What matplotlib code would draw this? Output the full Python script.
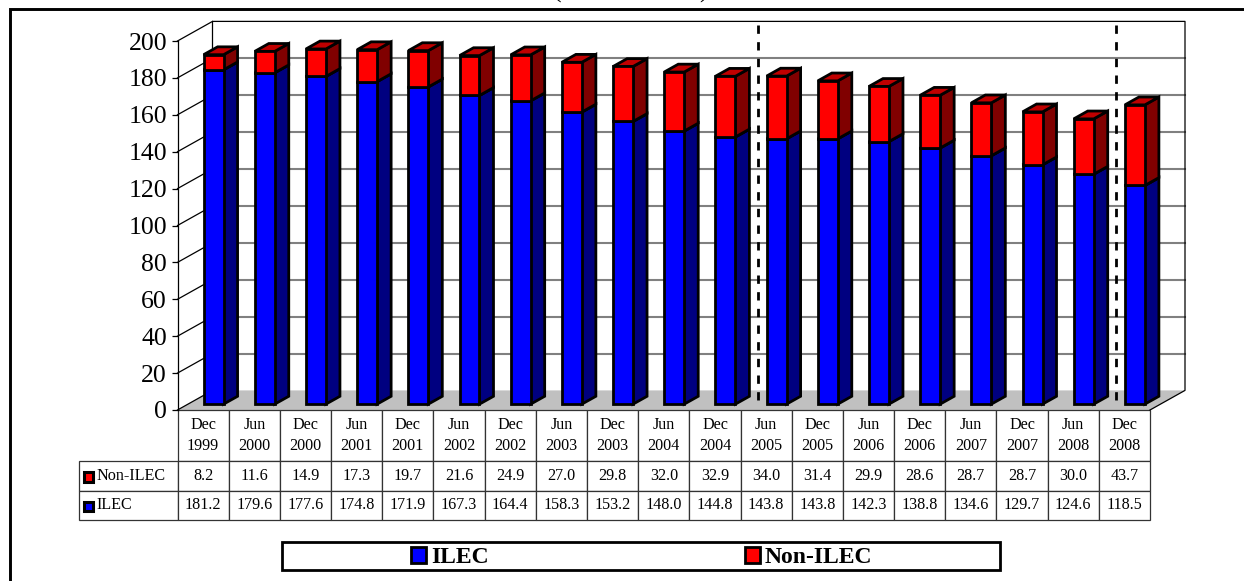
import matplotlib
matplotlib.use("Agg")
import matplotlib.pyplot as plt
from matplotlib.patches import Polygon, Rectangle, Patch
from matplotlib.lines import Line2D

plt.rcParams['font.family'] = ['Liberation Serif', 'DejaVu Serif']

months = ["Dec", "Jun", "Dec", "Jun", "Dec", "Jun", "Dec", "Jun", "Dec", "Jun", "Dec",
          "Jun", "Dec", "Jun", "Dec", "Jun", "Dec", "Jun", "Dec"]
years = [1999, 2000, 2000, 2001, 2001, 2002, 2002, 2003, 2003, 2004, 2004,
         2005, 2005, 2006, 2006, 2007, 2007, 2008, 2008]
ilec = [181.2, 179.6, 177.6, 174.8, 171.9, 167.3, 164.4, 158.3, 153.2, 148.0, 144.8,
        143.8, 143.8, 142.3, 138.8, 134.6, 129.7, 124.6, 118.5]
non_ilec = [8.2, 11.6, 14.9, 17.3, 19.7, 21.6, 24.9, 27.0, 29.8, 32.0, 32.9,
            34.0, 31.4, 29.9, 28.6, 28.7, 28.7, 30.0, 43.7]
divider_positions = [11, 18]
y_ticks = list(range(0, 201, 20))

W, H = 1244, 581
fig = plt.figure(figsize=(W / 100, H / 100), dpi=100)
fig.patch.set_facecolor('white')

L, R, B, T = 177.5, 1150.0, 410.0, 41.0


def fx(p):
    return p / W


def fy(p):
    return 1 - p / H


ax = fig.add_axes([fx(L), fy(B), (R - L) / W, (B - T) / H])
n = len(ilec)
ax.set_xlim(0, n)
ax.set_ylim(0, 200)
ax.patch.set_visible(False)

# oblique projection of the 3-D box, in data units per full depth
DX = 35.0 / ((R - L) / n)
DY = 19.6 / ((B - T) / 200)


def proj(x, y, d):
    return (x + DX * d, y + DY * d)


def face(pts, **kw):
    kw.setdefault('clip_on', False)
    p = Polygon(pts, closed=True, **kw)
    ax.add_patch(p)
    return p


# floor and walls
face([proj(0, 0, 0), proj(0, 0, 1), proj(n, 0, 1), proj(n, 0, 0)],
     facecolor='#c0c0c0', edgecolor='none', zorder=1)
for v in y_ticks[1:-1]:
    a, b = proj(0, v, 1), proj(n, v, 1)
    ax.plot([a[0], b[0]], [a[1], b[1]], color='#808080', lw=1.5, zorder=1.5, clip_on=False)
for v in y_ticks:
    a, b = proj(0, v, 0), proj(0, v, 1)
    ax.plot([a[0], b[0]], [a[1], b[1]], color='black', lw=0.9, zorder=1.6, clip_on=False)
back = [proj(0, 0, 1), proj(0, 200, 1), proj(n, 200, 1), proj(n, 0, 1), proj(n, 0, 0)]
ax.plot([p[0] for p in back], [p[1] for p in back], color='black', lw=0.9, zorder=1.7, clip_on=False)

# dashed dividers
for c in divider_positions:
    x0, y0 = proj(c, 0, 0.5)
    x1, y1 = proj(c, 200, 1)
    ax.plot([x0, x0], [y0, y1], color='black', lw=2.0, dashes=(3.0, 3.0), zorder=2, clip_on=False)

# stacked 3-D bars
D0, D1 = 0.30, 0.70
HW = 0.195
EDGE = dict(edgecolor='black', linewidth=2.0, joinstyle='miter')
for i in range(n):
    xl, xr = i + 0.5 - HW, i + 0.5 + HW
    for lo, hi, front, side, top in [
        (0, ilec[i], '#0000ff', '#000080', '#0000c0'),
        (ilec[i], ilec[i] + non_ilec[i], '#ff0000', '#800000', '#c00000'),
    ]:
        face([proj(xr, lo, D0), proj(xr, lo, D1), proj(xr, hi, D1), proj(xr, hi, D0)],
             facecolor=side, zorder=3, **EDGE)
        face([proj(xl, hi, D0), proj(xl, hi, D1), proj(xr, hi, D1), proj(xr, hi, D0)],
             facecolor=top, zorder=3, **EDGE)
        face([proj(xl, lo, D0), proj(xr, lo, D0), proj(xr, hi, D0), proj(xl, hi, D0)],
             facecolor=front, zorder=4, **EDGE)

# axis
ax.set_yticks(y_ticks)
ax.set_xticks([])
for s in ['top', 'right', 'bottom']:
    ax.spines[s].set_visible(False)
ax.spines['left'].set_linewidth(0.9)
ax.tick_params(axis='y', length=4.5, width=0.9, pad=3, labelsize=18.5)

# data table
col_labels = [f"{m}\n{y}" for m, y in zip(months, years)]
cell_text = [[f"{v:.1f}" for v in non_ilec], [f"{v:.1f}" for v in ilec]]
row_names = ["Non-ILEC", "ILEC"]
row_w = (L - 79.3) / (R - L)
tbl_h = (520.0 - B) / (B - T)
tbl = ax.table(cellText=cell_text, colLabels=col_labels,
               colWidths=[1.0 / n] * n, cellLoc='center',
               bbox=[0, -tbl_h, 1, tbl_h])
tbl.auto_set_font_size(False)
for r, name in enumerate(row_names, start=1):
    tbl.add_cell(r, -1, width=row_w, height=0.08, text=name, loc='left')
heights = {0: 50.7, 1: 30.0, 2: 29.3}
for (r, c), cell in tbl.get_celld().items():
    cell.set_height(heights[r] / (B - T))
    cell.set_linewidth(0.9)
    cell.set_edgecolor('#333333')
    cell.get_text().set_fontsize(11.6)
    if r == 0:
        cell.get_text().set_linespacing(1.42)
    if c == -1:
        cell.PAD = 0.178
tbl.set_zorder(1)
tbl.set_clip_on(False)

# row keys beside the table
for ypx, col in [(477.0, '#ff0000'), (506.5, '#0000ff')]:
    fig.add_artist(Rectangle((fx(83.8), fy(ypx + 4.8)), 9.6 / W, 9.6 / H, transform=fig.transFigure,
                             facecolor=col, edgecolor='black', linewidth=2.2))

# legend box and legend
fig.add_artist(Rectangle((fx(281.5), fy(570)), 718 / W, 28.5 / H, transform=fig.transFigure,
                         facecolor='white', edgecolor='black', linewidth=2.0))
handles = [Patch(facecolor='#0000ff', edgecolor='black', linewidth=2.0),
           Patch(facecolor='#ff0000', edgecolor='black', linewidth=2.0)]
leg = fig.legend(handles, ["ILEC", "Non-ILEC"], loc='center left',
                 bbox_to_anchor=(fx(410.5), fy(557.5)), ncol=2, frameon=False, borderpad=0,
                 borderaxespad=0, handlelength=0.66, handleheight=0.68, handletextpad=0.2,
                 columnspacing=10.85, prop={'weight': 'bold', 'size': 17, 'family': 'Liberation Serif'})

# outer frame
fig.add_artist(Line2D([1.0, fx(9.5), fx(9.5)], [fy(8.5), fy(8.5), 0.0], transform=fig.transFigure,
                      color='black', lw=2.1, solid_joinstyle='miter'))

# clipped title parentheses at the very top
fig.text(fx(557), fy(-2), "(", fontsize=18.5, ha='center', va='baseline')
fig.text(fx(703), fy(-2), ")", fontsize=18.5, ha='center', va='baseline')

fig.savefig('out.png', dpi=100)
